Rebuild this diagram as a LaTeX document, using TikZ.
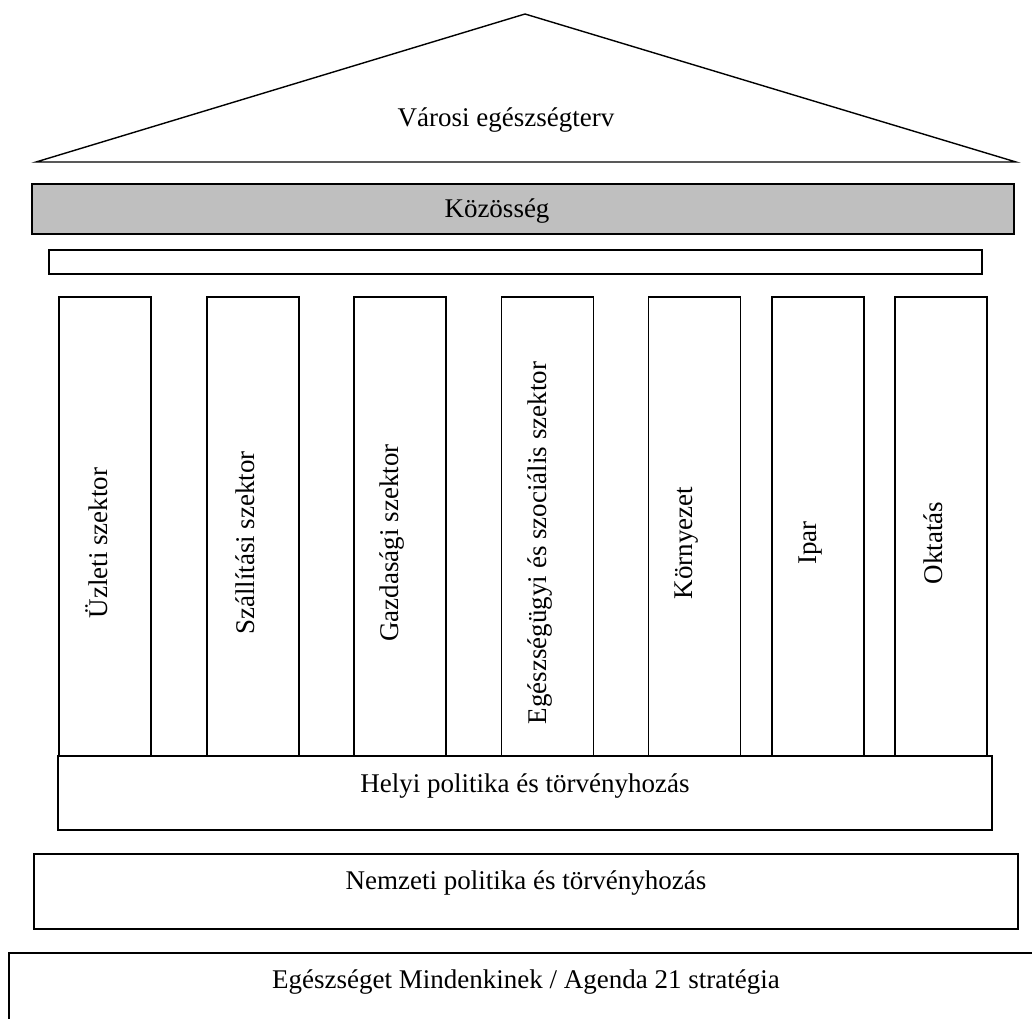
\documentclass[tikz,border=0pt]{standalone}
\usepackage{fontspec}
\setmainfont{Liberation Serif}
\usetikzlibrary{positioning}

\begin{document}
\begin{tikzpicture}[
      x=1pt, y=-1pt,
      box/.style={
        rectangle,
        draw,
        line width=1.4pt,
        inner sep=0pt
      },
      pillar/.style={
        box,
        minimum width=92pt,
        minimum height=459pt
      },
      txt/.style={font=\fontsize{27}{32}\selectfont, inner sep=0pt},
      vtxt/.style={txt, rotate=90}
    ]
    \useasboundingbox (0,0) rectangle (1032,1018);

    % Roof
    \coordinate (roofl) at (36,162);
    \coordinate (apex) at (525,14);
    \coordinate (roofr) at (1016,162);
    \draw[line width=1.4pt] (roofl) -- (apex) -- (roofr) -- cycle;
    \node[txt] (terv) at (506,120) {Városi egészségterv};

    % Beams
    \node[box, fill=black!25, minimum width=982pt, minimum height=50pt] (koz) at (523,209) {};
    \node[txt] (kozt) at (497,211) {Közösség};
    \node[box, minimum width=933pt, minimum height=24pt] (bar) at (515.5,262) {};

    % Pillars
    \node[pillar] (uzlet) at (105,526.5) {};
    \node[pillar] (szall) at (253,526.5) {};
    \node[pillar] (gazd) at (400,526.5) {};
    \node[pillar] (eu) at (547.5,526.5) {};
    \node[pillar] (korny) at (694.5,526.5) {};
    \node[pillar] (ipar) at (818,526.5) {};
    \node[pillar] (okt) at (941,526.5) {};

    \node[vtxt] (uzlett) at (97,543) {Üzleti szektor};
    \node[vtxt] (szallt) at (245.5,543) {Szállítási szektor};
    \node[vtxt] (gazdt) at (392.5,543) {Gazdasági szektor};
    \node[vtxt] (eut) at (540,543) {Egészségügyi és szociális szektor};
    \node[vtxt] (kornyt) at (687,543) {Környezet};
    \node[vtxt] (ipart) at (811,543) {Ipar};
    \node[vtxt] (oktt) at (933.5,543) {Oktatás};

    % Foundations
    \node[box, minimum width=934pt, minimum height=74pt] (helyi) at (525,793) {};
    \node[txt] (helyit) at (525,786) {Helyi politika és törvényhozás};
    \node[box, minimum width=984pt, minimum height=75pt] (nemz) at (526,891.5) {};
    \node[txt] (nemzt) at (526,883) {Nemzeti politika és törvényhozás};
    \node[box, minimum width=1036pt, minimum height=80pt] (eum) at (527,993) {};
    \node[txt] (eumt) at (526,982) {Egészséget Mindenkinek / Agenda 21 stratégia};
  \end{tikzpicture}
\end{document}
